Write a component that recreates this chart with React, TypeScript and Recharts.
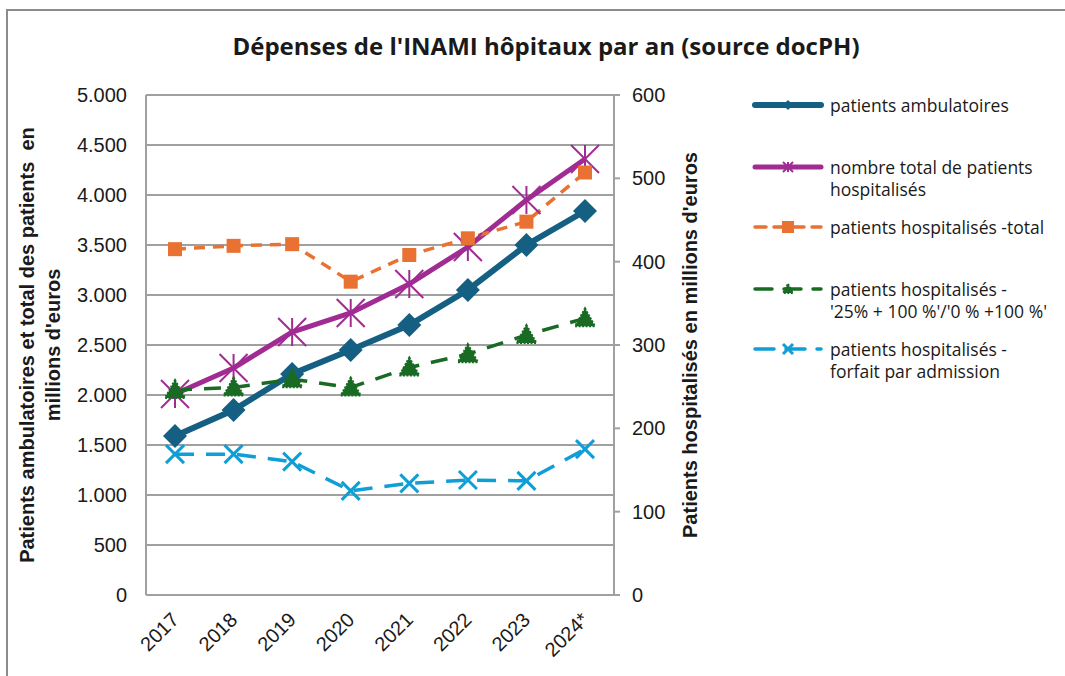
import React from 'react';
import { LineChart, Line, XAxis, YAxis, CartesianGrid } from 'recharts';

const years = ['2017', '2018', '2019', '2020', '2021', '2022', '2023', '2024*'];
const ambulatoires = [1590, 1850, 2210, 2450, 2700, 3050, 3500, 3840];
const totalHospitalises = [2010, 2270, 2630, 2820, 3110, 3480, 3950, 4360];
const hospTotal = [415, 419, 421, 376, 408, 428, 448, 507];
const hosp25 = [246, 249, 259, 249, 273, 289, 312, 332];
const forfait = [169, 169, 160, 125, 134, 138, 137, 175];

const leftTicks = [0, 500, 1000, 1500, 2000, 2500, 3000, 3500, 4000, 4500, 5000];
const rightTicks = [0, 100, 200, 300, 400, 500, 600];

const data = years.map((year, i) => ({
  year,
  ambulatoires: ambulatoires[i],
  totalHospitalises: totalHospitalises[i],
  hospTotal: hospTotal[i],
  hosp25: hosp25[i],
  forfait: forfait[i],
}));

const GRID = '#a0a0a0';
const TICK_FONT = '"Liberation Sans", Arial, sans-serif';
const LEGEND_FONT = '"Open Sans", sans-serif';

const fmt = (v: number) => String(v).replace(/\B(?=(\d{3})+(?!\d))/g, '.');

// marker shapes
const Diamond = ({ cx, cy, fill, size = 12 }: any) => (
  <path d={`M${cx},${cy - size} L${cx + size},${cy} L${cx},${cy + size} L${cx - size},${cy} Z`} fill={fill} />
);
const Asterisk = ({ cx, cy, stroke, size = 14 }: any) => (
  <g stroke={stroke} strokeWidth={2}>
    <line x1={cx - size} y1={cy - size} x2={cx + size} y2={cy + size} />
    <line x1={cx - size} y1={cy + size} x2={cx + size} y2={cy - size} />
    <line x1={cx} y1={cy - size} x2={cx} y2={cy + size} />
  </g>
);
const Square = ({ cx, cy, fill, size = 7 }: any) => (
  <rect x={cx - size} y={cy - size} width={size * 2} height={size * 2} fill={fill} />
);
const Triangle = ({ cx, cy, fill, size = 10 }: any) => (
  <path d={`M${cx},${cy - size} L${cx + size},${cy + size * 0.8} L${cx - size},${cy + size * 0.8} Z`} fill={fill} stroke={fill} strokeWidth={2} strokeDasharray="2 1.5" />
);
const Cross = ({ cx, cy, stroke, size = 9 }: any) => (
  <g stroke={stroke} strokeWidth={3}>
    <line x1={cx - size} y1={cy - size} x2={cx + size} y2={cy + size} />
    <line x1={cx - size} y1={cy + size} x2={cx + size} y2={cy - size} />
  </g>
);

const series = [
  { key: 'ambulatoires', name: ['patients ambulatoires'], color: '#156082', width: 6, dash: undefined, axis: 'left', Marker: Diamond, legendY: 94 },
  { key: 'totalHospitalises', name: ['nombre total de patients', 'hospitalisés'], color: '#a02b93', width: 5, dash: undefined, axis: 'left', Marker: Asterisk, legendY: 156 },
  { key: 'hospTotal', name: ['patients hospitalisés -total'], color: '#e97132', width: 3.5, dash: '11 8', axis: 'right', Marker: Square, legendY: 216 },
  { key: 'hosp25', name: ['patients hospitalisés -', "'25% + 100 %'/'0 % +100 %'"], color: '#196b24', width: 3.5, dash: '17 12', axis: 'right', Marker: Triangle, legendY: 278 },
  { key: 'forfait', name: ['patients hospitalisés -', 'forfait par admission'], color: '#0f9ed5', width: 3.5, dash: '19 12', axis: 'right', Marker: Cross, legendY: 338 },
];

const XTick = ({ x, y, payload }: any) => (
  <text
    x={x + 5}
    y={y + 18}
    transform={`rotate(-45, ${x + 5}, ${y + 18})`}
    textAnchor="end"
    fontFamily={TICK_FONT}
    fontSize={20}
    fill="#1a1a1a"
  >
    {payload.value}
  </text>
);

const Legend = () => (
  <div style={{ position: 'absolute', left: 744, top: 0 }}>
    {series.map((s) => (
      <div key={s.key} style={{ position: 'absolute', top: s.legendY - 11, left: 0, width: 320 }}>
        <svg width={72} height={22} style={{ position: 'absolute', left: 0, top: 0 }}>
          <line x1={3} y1={11} x2={69} y2={11} stroke={s.color} strokeWidth={s.width} strokeDasharray={s.dash} strokeLinecap="round" />
          <s.Marker cx={36} cy={11} fill={s.color} stroke={s.color} size={s.Marker === Square ? 6 : 5} />
        </svg>
        <div style={{ position: 'absolute', left: 78, top: 0, fontFamily: LEGEND_FONT, fontSize: 17.5, lineHeight: '22px', color: '#1a1a1a', whiteSpace: 'nowrap' }}>
          {s.name.map((line) => (
            <div key={line}>{line}</div>
          ))}
        </div>
      </div>
    ))}
  </div>
);

export default function App() {
  return (
    <div
      style={{
        position: 'fixed',
        left: 6,
        top: 9,
        width: 1070,
        height: 700,
        border: '2px solid #8c8c8c',
        background: '#fff',
        boxSizing: 'border-box',
      }}
    >
      <div
        style={{
          position: 'absolute',
          left: 0,
          width: 1076,
          top: 18,
          textAlign: 'center',
          fontFamily: LEGEND_FONT,
          fontWeight: 700,
          fontSize: 24,
          color: '#1a1a1a',
        }}
      >
        Dépenses de l'INAMI hôpitaux par an (source docPH)
      </div>

      <div
        style={{
          position: 'absolute',
          left: 36 - 250,
          top: 334 - 30,
          width: 500,
          height: 60,
          transform: 'rotate(-90deg)',
          textAlign: 'center',
          fontFamily: TICK_FONT,
          fontWeight: 700,
          fontSize: 20,
          lineHeight: '26px',
          color: '#1a1a1a',
        }}
      >
        <div style={{ whiteSpace: 'pre' }}>Patients ambulatoires et total des patients  en</div>
        <div>millions d'euros</div>
      </div>

      <div
        style={{
          position: 'absolute',
          left: 682 - 250,
          top: 334 - 13,
          width: 500,
          height: 26,
          transform: 'rotate(-90deg)',
          textAlign: 'center',
          fontFamily: TICK_FONT,
          fontWeight: 700,
          fontSize: 20,
          lineHeight: '26px',
          color: '#1a1a1a',
        }}
      >
        Patients hospitalisés en millions d'euros
      </div>

      <div style={{ position: 'absolute', left: 0, top: 0 }}>
        <LineChart width={1054} height={665} data={data} margin={{ top: 84, right: 368, left: 0, bottom: 11 }}>
          <CartesianGrid yAxisId="left" vertical={false} stroke={GRID} strokeWidth={2} />
          <XAxis
            dataKey="year"
            padding={{ left: 29, right: 29 }}
            height={70}
            axisLine={{ stroke: GRID, strokeWidth: 2 }}
            tickLine={false}
            tick={<XTick />}
            interval={0}
          />
          <YAxis
            yAxisId="left"
            width={138}
            domain={[0, 5000]}
            ticks={leftTicks}
            tickFormatter={fmt}
            axisLine={{ stroke: GRID, strokeWidth: 2 }}
            tickLine={false}
            tickMargin={13}
            tick={{ fontFamily: TICK_FONT, fontSize: 20, fill: '#1a1a1a' }}
          />
          <YAxis
            yAxisId="right"
            orientation="right"
            width={80}
            domain={[0, 600]}
            ticks={rightTicks}
            axisLine={{ stroke: GRID, strokeWidth: 2 }}
            tickLine={{ stroke: GRID, strokeWidth: 2 }}
            tickSize={6}
            tickMargin={12}
            tick={{ fontFamily: TICK_FONT, fontSize: 20, fill: '#1a1a1a' }}
          />
          {series.map((s) => (
            <Line
              key={s.key}
              yAxisId={s.axis}
              dataKey={s.key}
              stroke={s.color}
              strokeWidth={s.width}
              strokeDasharray={s.dash}
              isAnimationActive={false}
              dot={(p: any) => <s.Marker key={`${s.key}-${p.index}`} cx={p.cx} cy={p.cy} fill={s.color} stroke={s.color} />}
              activeDot={false}
            />
          ))}
        </LineChart>
      </div>

      <Legend />
    </div>
  );
}
